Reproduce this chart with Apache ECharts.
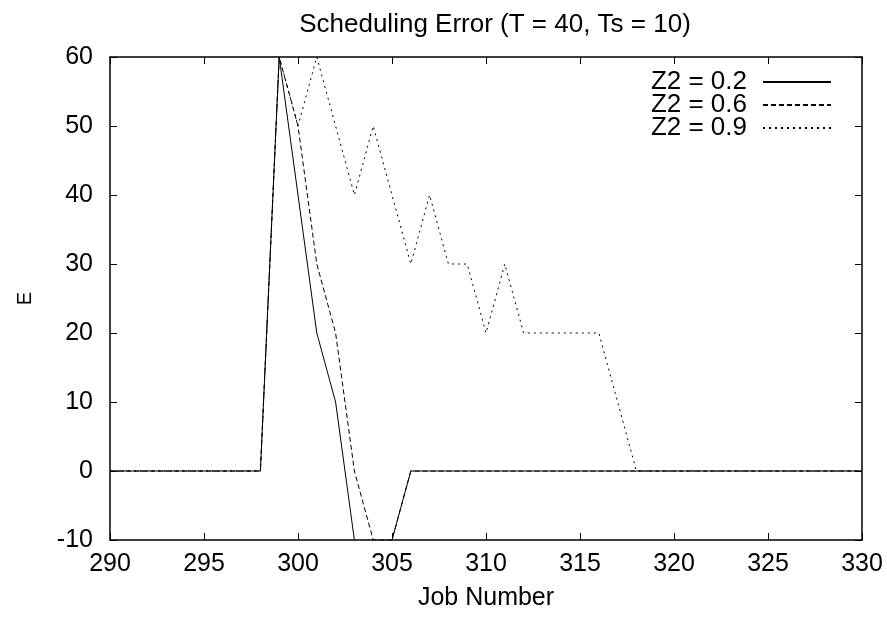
<!DOCTYPE html>
<html>
<head>
<meta charset="utf-8">
<script src="https://cdn.jsdelivr.net/npm/echarts@6/dist/echarts.min.js"></script>
<style>
  html, body { margin: 0; padding: 0; background: #fff; }
</style>
</head>
<body>
<div id="myChart" style="width:887px;height:620px;"></div>
<script>
// job numbers 290..330
var jobs = [290,291,292,293,294,295,296,297,298,299,300,301,302,303,304,305,306,307,308,309,310,
            311,312,313,314,315,316,317,318,319,320,321,322,323,324,325,326,327,328,329,330];

var z02 = [0,0,0,0,0,0,0,0,0,60,40,20,10,-10,-20,-10,0,0,0,0,0,
           0,0,0,0,0,0,0,0,0,0,0,0,0,0,0,0,0,0,0,0];
var z06 = [0,0,0,0,0,0,0,0,0,60,50,30,20,0,-10,-10,0,0,0,0,0,
           0,0,0,0,0,0,0,0,0,0,0,0,0,0,0,0,0,0,0,0];
var z09 = [0,0,0,0,0,0,0,0,0,60,50,60,50,40,50,40,30,40,30,30,20,
           30,20,20,20,20,20,10,0,0,0,0,0,0,0,0,0,0,0,0,0];

var xTicks = [290, 330, 5];
var yTicks = [-10, 60, 10];

function pairs(vals) {
  var out = [];
  for (var i = 0; i < jobs.length; i++) out.push([jobs[i], vals[i]]);
  return out;
}

var font = '"Liberation Sans", Arial, Helvetica, sans-serif';

var myChart = echarts.init(document.getElementById('myChart'));
myChart.setOption({
  animation: false,
  backgroundColor: '#fff',
  title: {
    text: 'Scheduling Error (T = 40, Ts = 10)',
    left: 490,
    textAlign: 'center',
    top: 7,
    textStyle: { color: '#000', fontSize: 26, fontWeight: 'normal', fontFamily: font }
  },
  legend: {
    orient: 'vertical',
    right: 50,
    top: 64,
    align: 'right',
    itemWidth: 68,
    itemHeight: 14,
    itemGap: -3,
    itemStyle: { opacity: 0 },
    textStyle: { color: '#000', fontSize: 26, fontFamily: font, padding: [0, 11, 0, 0] },
    data: ['Z2 = 0.2', 'Z2 = 0.6', 'Z2 = 0.9']
  },
  grid: { left: 110, top: 57, right: 25, bottom: 80 },
  xAxis: [{
    type: 'value',
    min: xTicks[0], max: xTicks[1], interval: xTicks[2],
    name: 'Job Number',
    nameLocation: 'middle',
    nameGap: 46,
    nameTextStyle: { color: '#000', fontSize: 25, fontFamily: font },
    axisLine: { show: true, onZero: false, lineStyle: { color: '#000', width: 1.5 } },
    axisTick: { show: true, inside: true, length: 7, lineStyle: { color: '#000' } },
    axisLabel: { color: '#000', fontSize: 25, fontFamily: font, margin: 12 },
    splitLine: { show: false }
  }, {
    type: 'value',
    position: 'top',
    min: xTicks[0], max: xTicks[1], interval: xTicks[2],
    axisLine: { show: true, onZero: false, lineStyle: { color: '#000', width: 1.5 } },
    axisTick: { show: true, inside: true, length: 7, lineStyle: { color: '#000' } },
    axisLabel: { show: false },
    splitLine: { show: false }
  }],
  yAxis: [{
    type: 'value',
    min: yTicks[0], max: yTicks[1], interval: yTicks[2],
    name: 'E',
    nameLocation: 'middle',
    nameRotate: 90,
    nameGap: 75,
    nameTextStyle: { color: '#000', fontSize: 20, fontFamily: font },
    axisLine: { show: true, onZero: false, lineStyle: { color: '#000', width: 1.5 } },
    axisTick: { show: true, inside: true, length: 7, lineStyle: { color: '#000' } },
    axisLabel: { color: '#000', fontSize: 25, fontFamily: font, margin: 17 },
    splitLine: { show: false }
  }, {
    type: 'value',
    position: 'right',
    min: yTicks[0], max: yTicks[1], interval: yTicks[2],
    axisLine: { show: true, onZero: false, lineStyle: { color: '#000', width: 1.5 } },
    axisTick: { show: true, inside: true, length: 7, lineStyle: { color: '#000' } },
    axisLabel: { show: false },
    splitLine: { show: false }
  }],
  series: [{
    name: 'Z2 = 0.2',
    type: 'line',
    data: pairs(z02),
    symbol: 'none',
    color: '#000',
    lineStyle: { color: '#000', width: 1, type: 'solid' }
  }, {
    name: 'Z2 = 0.6',
    type: 'line',
    data: pairs(z06),
    symbol: 'none',
    color: '#000',
    lineStyle: { color: '#000', width: 1, type: [5, 3] }
  }, {
    name: 'Z2 = 0.9',
    type: 'line',
    data: pairs(z09),
    symbol: 'none',
    color: '#000',
    lineStyle: { color: '#000', width: 1, type: [2, 4] }
  }]
});
</script>
</body>
</html>
